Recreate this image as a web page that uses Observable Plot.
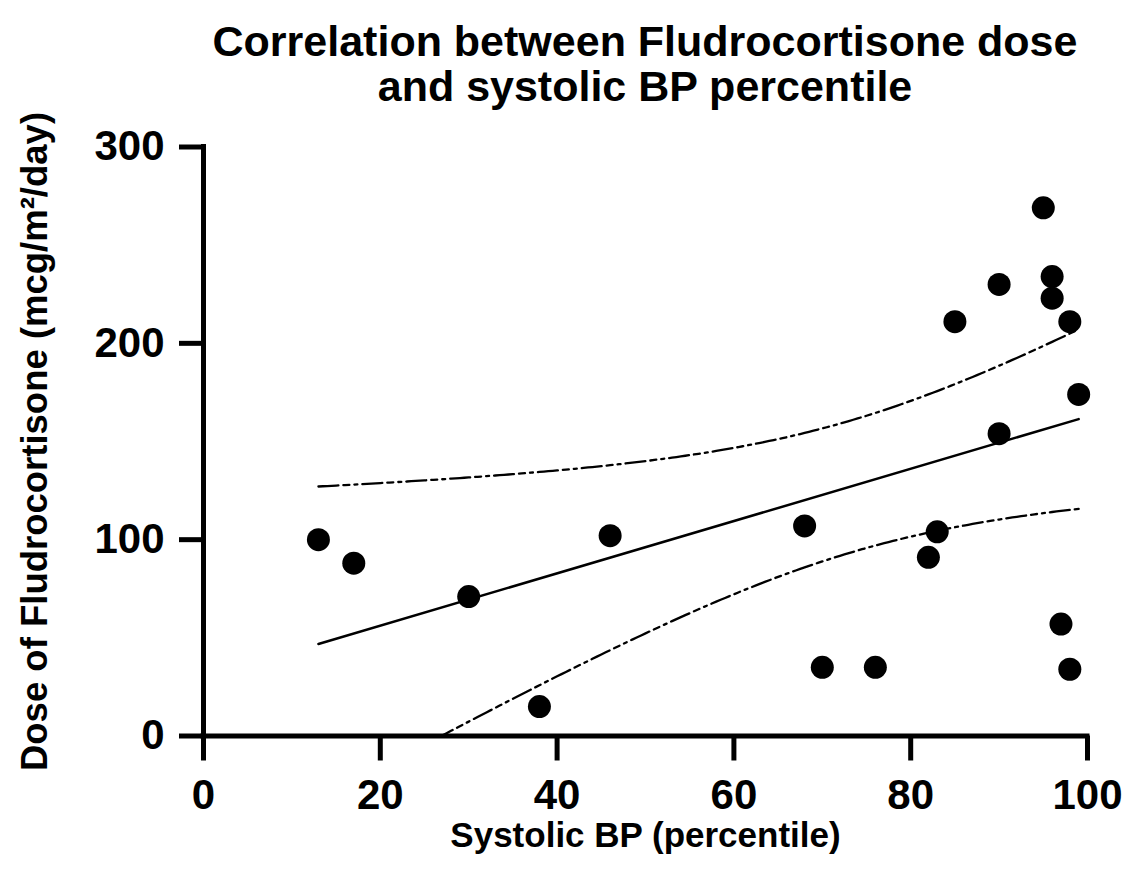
<!DOCTYPE html>
<html><head><meta charset="utf-8">
<script src="https://cdn.jsdelivr.net/npm/d3@7"></script>
<script src="https://cdn.jsdelivr.net/npm/@observablehq/plot@0.6"></script>
<style>
body{margin:0;background:#fff;width:1127px;height:872px;overflow:hidden;font-family:"Liberation Sans",Arial,Helvetica,sans-serif;}
#title{height:110px;box-sizing:border-box;padding-top:19px;padding-left:203px;padding-right:40px;text-align:center;font-weight:bold;font-size:43px;line-height:45px;color:#000;white-space:nowrap;}
#chart svg{display:block;}
</style></head><body>
<div id="title">Correlation between Fludrocortisone dose<br>and systolic BP percentile</div>
<div id="chart"></div>
<script>
// Data
const percentile = [13,17,30,38,46,68,70,76,82,83,85,90,90,95,96,96,97,98,98,99];
const dose = [100,88,71,15,102,107,35,35,91,104,211,230,154,269,234,223,57,211,34,174];
const xTicks = [0,20,40,60,80,100];
const yTicks = [0,100,200,300];
const xLabel = "Systolic BP (percentile)";
const yLabel = "Dose of Fludrocortisone (mcg/m²/day)";

const points = percentile.map((p, i) => ({p, d: dose[i]}));

// 95% confidence band of the linear fit (derived from the data above)
const n = percentile.length;
const mx = d3.mean(percentile), my = d3.mean(dose);
const sxx = d3.sum(percentile, x => (x - mx) ** 2);
const sxy = d3.sum(percentile, (x, i) => (x - mx) * (dose[i] - my));
const b = sxy / sxx, a = my - b * mx;
const sse = d3.sum(percentile, (x, i) => (dose[i] - a - b * x) ** 2);
const s = Math.sqrt(sse / (n - 2));
const tCrit = 2.1009; // t(0.975, df = 18)
const xs = d3.range(d3.min(percentile), d3.max(percentile) + 1e-9, 0.5);
const band = xs.map(x => {
  const h = tCrit * s * Math.sqrt(1 / n + (x - mx) ** 2 / sxx);
  const f = a + b * x;
  return {x, lo: f - h, hi: f + h};
});

const font = '"Liberation Sans", Arial, Helvetica, sans-serif';
const dash = "20,5,6,5,3,5";
const chart = Plot.plot({
  width: 1127, height: 762,
  marginLeft: 203, marginRight: 40, marginTop: 36.5, marginBottom: 136.5,
  style: {fontFamily: font, color: "black", background: "white", overflow: "visible"},
  x: {domain: [0, 100]},
  y: {domain: [0, 300]},
  marks: [
    Plot.line(band, {x: "x", y: "hi", stroke: "black", strokeWidth: 2.3, strokeDasharray: dash, clip: true}),
    Plot.line(band, {x: "x", y: "lo", stroke: "black", strokeWidth: 2.3, strokeDasharray: dash, clip: true}),
    Plot.linearRegressionY(points, {x: "p", y: "d", stroke: "black", strokeWidth: 2.5, ci: 0}),
    Plot.dot(points, {x: "p", y: "d", r: 11.5, fill: "black"}),
    Plot.axisX({ticks: xTicks, tickSize: 25, tickPadding: 18, fontSize: 42, fontWeight: "bold", strokeWidth: 5, label: null, tickFormat: d => String(d)}),
    Plot.axisY({ticks: yTicks, tickSize: 24, tickPadding: 15, fontSize: 42, fontWeight: "bold", strokeWidth: 5, label: null, tickFormat: d => String(d)}),
    Plot.ruleX([0], {strokeWidth: 5, strokeLinecap: "square"}),
    Plot.ruleY([0], {strokeWidth: 5, strokeLinecap: "square"}),
    Plot.text([xLabel], {text: d => d, frameAnchor: "bottom", dy: 86, lineAnchor: "top", fontSize: 35, fontWeight: "bold"}),
    Plot.text([yLabel], {text: d => d, frameAnchor: "left", dx: -182, rotate: -90, lineAnchor: "top", textAnchor: "middle", fontSize: 36.5, fontWeight: "bold"})
  ]
});
document.getElementById("chart").appendChild(chart);
</script>
</body></html>
